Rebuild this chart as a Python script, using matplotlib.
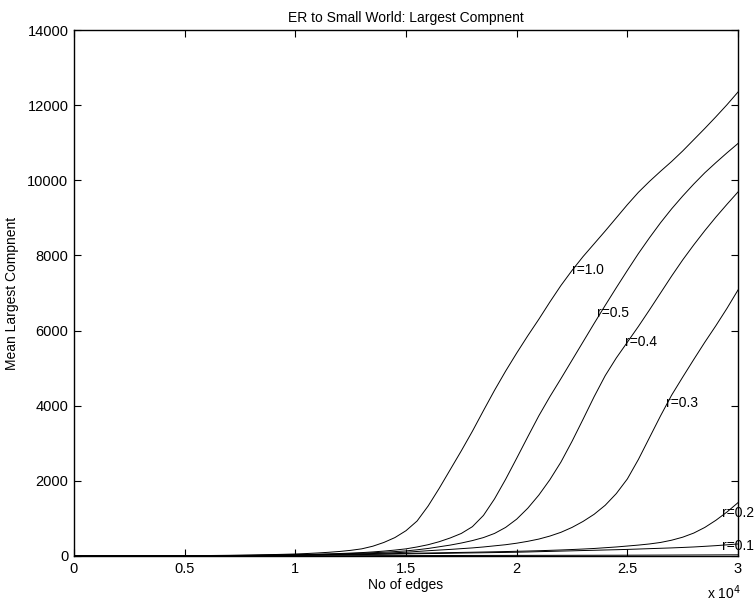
import numpy as np
import matplotlib
matplotlib.use("Agg")
import matplotlib.pyplot as plt

plt.rcParams['font.family'] = ['Liberation Sans', 'DejaVu Sans']

# number of edges (in units of 10^4), sampled every 500 edges
edges = np.round(np.arange(0, 3.001, 0.05), 2)

r10 = [0, 0, 1, 1, 2, 2, 3, 4, 5, 6, 7, 9, 12, 15, 18, 22, 26, 32, 38, 45, 53,
       65, 80, 98, 120, 150, 190, 260, 360, 490, 673,
       930, 1330, 1800, 2300, 2800, 3320, 3870, 4410, 4920, 5400,
       5860, 6300, 6760, 7200, 7600, 7970, 8310, 8650, 9000, 9350,
       9680, 9970, 10240, 10500, 10780, 11080, 11380, 11690, 12010, 12350]
r05 = [0, 0, 1, 1, 2, 2, 3, 3, 4, 5, 6, 7, 9, 11, 13, 15, 18, 21, 25, 30, 35,
       41, 48, 56, 65, 77, 90, 108, 130, 157, 190,
       240, 300, 380, 480, 600, 780, 1080, 1520, 2040, 2600,
       3170, 3730, 4240, 4720, 5210, 5700, 6190, 6670, 7140, 7600,
       8050, 8470, 8870, 9240, 9580, 9900, 10200, 10470, 10730, 10980]
r04 = [0, 0, 1, 1, 1, 2, 2, 3, 3, 4, 5, 6, 8, 9, 11, 13, 15, 18, 21, 25, 30,
       35, 40, 47, 55, 64, 75, 87, 100, 117, 135,
       165, 200, 245, 290, 345, 410, 490, 600, 760, 980,
       1270, 1620, 2030, 2500, 3050, 3640, 4240, 4800, 5270, 5690,
       6110, 6550, 7000, 7450, 7880, 8280, 8660, 9020, 9360, 9690]
r03 = [0, 0, 1, 1, 1, 2, 2, 2, 3, 3, 4, 5, 6, 7, 9, 10, 12, 14, 17, 20, 24,
       28, 33, 38, 44, 50, 57, 65, 75, 87, 100,
       120, 140, 158, 175, 195, 215, 240, 270, 300, 340,
       390, 450, 530, 630, 760, 920, 1110, 1350, 1660, 2050,
       2570, 3150, 3730, 4280, 4760, 5230, 5690, 6130, 6590, 7080]
r02 = [0, 0, 1, 1, 1, 1, 2, 2, 3, 3, 4, 5, 6, 7, 9, 10, 12, 14, 17, 20, 25,
       28, 32, 36, 40, 44, 49, 54, 59, 64, 70,
       75, 80, 85, 90, 95, 100, 106, 112, 118, 125,
       132, 140, 150, 160, 172, 185, 200, 220, 240, 265,
       290, 320, 360, 420, 500, 610, 760, 950, 1170, 1420]
r01 = [0, 0, 1, 1, 1, 1, 2, 2, 2, 3, 3, 4, 4, 5, 6, 7, 9, 11, 13, 16, 20,
       22, 25, 28, 31, 34, 38, 42, 46, 50, 55,
       60, 64, 68, 73, 78, 82, 86, 91, 95, 100,
       107, 115, 122, 130, 137, 145, 152, 160, 167, 175,
       185, 195, 205, 215, 227, 240, 257, 275, 297, 320]
r00 = [0, 0, 0, 1, 1, 1, 1, 2, 2, 2, 2, 3, 3, 3, 4, 4, 4, 5, 5, 5, 6,
       6, 7, 7, 8, 8, 9, 9, 10, 10, 11,
       11, 12, 12, 13, 13, 14, 14, 15, 15, 16,
       16, 17, 17, 18, 18, 19, 19, 20, 20, 21,
       22, 23, 24, 25, 26, 27, 28, 29, 30, 31]

series = [r10, r05, r04, r03, r02, r01, r00]

labels = ['r=1.0', 'r=0.5', 'r=0.4', 'r=0.3', 'r=0.2', 'r=0.1']
label_x = [2.248, 2.364, 2.490, 2.675, 2.926, 2.926]
label_y = [7612, 6460, 5704, 4064, 1136, 274]

fig = plt.figure(figsize=(7.54, 6.04), dpi=100)
ax = fig.add_axes([0.0981, 0.0795, 0.8807, 0.8708])

for s in series:
    ax.plot(edges * 1e4, s, color='black', linewidth=0.7)

for lab, lx, ly in zip(labels, label_x, label_y):
    ax.text(lx * 1e4, ly, lab, fontsize=10, ha='left', va='center')

ax.set_xlim(0, 30000)
ax.set_ylim(0, 14000)
xt = np.arange(0, 3.01, 0.5)
ax.set_xticks(xt * 1e4)
ax.set_xticklabels(['0', '0.5', '1', '1.5', '2', '2.5', '3'])
ax.set_yticks(np.arange(0, 14001, 2000))
ax.tick_params(direction='in', top=True, right=True, length=5, width=0.8, labelsize=10.5, pad=4)
for sp in ax.spines.values():
    sp.set_linewidth(1.0)

ax.set_title('ER to Small World: Largest Compnent', fontsize=10, pad=6)
ax.set_xlabel('No of edges', fontsize=10, labelpad=2)
ax.set_ylabel('Mean Largest Compnent', fontsize=10, labelpad=6)
fig.text(724 / 754, 1 - 593 / 604, r'x 10$^4$', fontsize=10, ha='center', va='center')

fig.savefig('out.png', dpi=100)
